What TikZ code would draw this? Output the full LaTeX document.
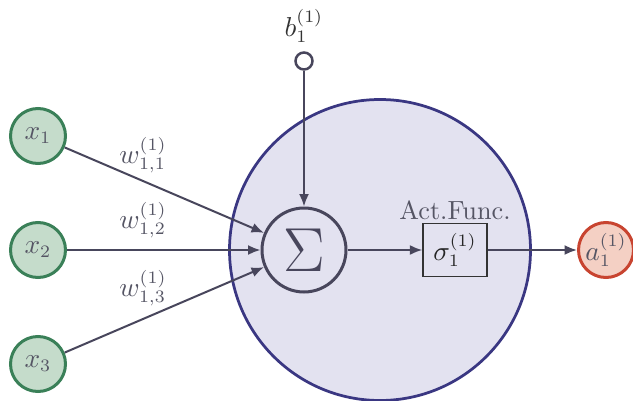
\documentclass[tikz,border=0pt]{standalone}
\usetikzlibrary{arrows.meta}
\definecolor{ingreen}{RGB}{197,220,203}
\definecolor{ingreenb}{RGB}{58,128,88}
\definecolor{neufill}{RGB}{227,226,240}
\definecolor{neubord}{RGB}{58,55,130}
\definecolor{darkline}{RGB}{72,70,92}
\definecolor{txtgray}{RGB}{85,85,100}
\definecolor{outfill}{RGB}{244,208,196}
\definecolor{outbord}{RGB}{200,68,48}
\begin{document}
\begin{tikzpicture}[x=0.4pt,y=-0.4pt,
  every node/.style={font=\fontsize{10.5}{12.5}\selectfont},
  innode/.style={circle,draw=ingreenb,fill=ingreen,line width=1.2pt,minimum size=22pt,inner sep=0pt,text=txtgray},
  outnode/.style={circle,draw=outbord,fill=outfill,line width=1.2pt,minimum size=22pt,inner sep=0pt,text=txtgray},
  conn/.style={draw=darkline,line width=0.8pt,-{Latex[length=5pt,width=4pt]}},
  lbl/.style={text=txtgray,inner sep=0pt}]
\useasboundingbox (0,0) rectangle (633,400);
\node[circle,draw=neubord,fill=neufill,line width=1.1pt,minimum size=120.4pt,inner sep=0pt] (neuron) at (380,250) {};
\node[innode] (x1) at (38,136) {$x_1$};
\node[innode] (x2) at (38,250) {$x_2$};
\node[innode] (x3) at (38,364) {$x_3$};
\node[circle,draw=darkline,line width=1.2pt,minimum size=33.6pt,inner sep=0pt,text=darkline,font=\Huge] (sum) at (304,250) {$\Sigma$};
\node[circle,draw=darkline,fill=white,line width=1pt,minimum size=6.8pt,inner sep=0pt] (bias) at (304,61) {};
\node[lbl,text=black!80] (blbl) at (304,26) {$b_1^{(1)}$};
\node[draw=black!80,fill=neufill,line width=0.5pt,minimum width=25.6pt,minimum height=21.2pt,inner sep=0pt,text=black!85] (act) at (455,250) {$\sigma_1^{(1)}$};
\node[lbl] (actlbl) at (455,210) {Act.Func.};
\node[outnode] (out) at (606,250) {$a_1^{(1)}$};
\node[lbl] (w1) at (143,155) {$w_{1,1}^{(1)}$};
\node[lbl] (w2) at (143,220) {$w_{1,2}^{(1)}$};
\node[lbl] (w3) at (143,288) {$w_{1,3}^{(1)}$};
\draw[conn] (x1) -- (sum);
\draw[conn] (x2) -- (sum);
\draw[conn] (x3) -- (sum);
\draw[conn] (bias) -- (sum);
\draw[conn] (sum) -- (act);
\draw[conn] (act) -- (out);
\end{tikzpicture}
\end{document}
